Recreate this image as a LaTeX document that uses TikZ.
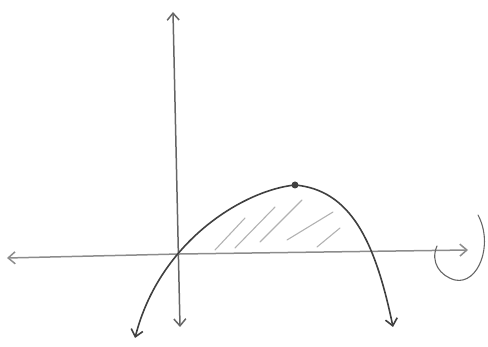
\documentclass[tikz,border=0pt]{standalone}
\usepackage{tikz}
\usetikzlibrary{arrows.meta}

\begin{document}
\begin{tikzpicture}[
                x=1pt, y=-1pt,
                >={Straight Barb[length=7pt, width=12pt]},
                axis/.style={draw=black!60, line width=1.5pt, line cap=round},
                curve/.style={draw=black!75, line width=1.6pt, line cap=round},
                hatch/.style={draw=black!30, line width=1.1pt, line cap=round}
            ]
            \useasboundingbox (0,0) rectangle (488,347);

            % Axes
            \coordinate (ytop) at (173,12);
            \coordinate (ybot) at (180,327);
            \coordinate (xleft) at (7,258);
            \coordinate (xright) at (468,250);
            \draw[axis, <->] (ybot) -- (ytop);
            \draw[axis, black!45, <->] (xleft) -- (180,254) -- (xright);

            % Shaded region
            \draw[hatch] (215,250) -- (245,218);
            \draw[hatch] (235,248) -- (275,207);
            \draw[hatch] (260,242) -- (302,200);
            \draw[hatch] (287,240) -- (333,212);
            \draw[hatch] (317,247) -- (340,228);

            % Curve with its peak
            \coordinate (cleft) at (135,338);
            \coordinate (peak) at (295,185);
            \coordinate (cright) at (393,327);
            \draw[curve, <->]
                (cleft) .. controls (160,240) and (245,190) .. (peak)
                .. controls (350,190) and (375,240) .. (cright);
            \fill[black!75] (peak) circle (3.5pt);

            % Rotation about the x-axis
            \coordinate (rstart) at (478,215);
            \coordinate (rend) at (437,246);
            \draw[axis, line width=1.1pt] (rstart) .. controls (494,245) and (478,285) .. (455,280)
                .. controls (440,276) and (430,262) .. (rend);
        \end{tikzpicture}
\end{document}
